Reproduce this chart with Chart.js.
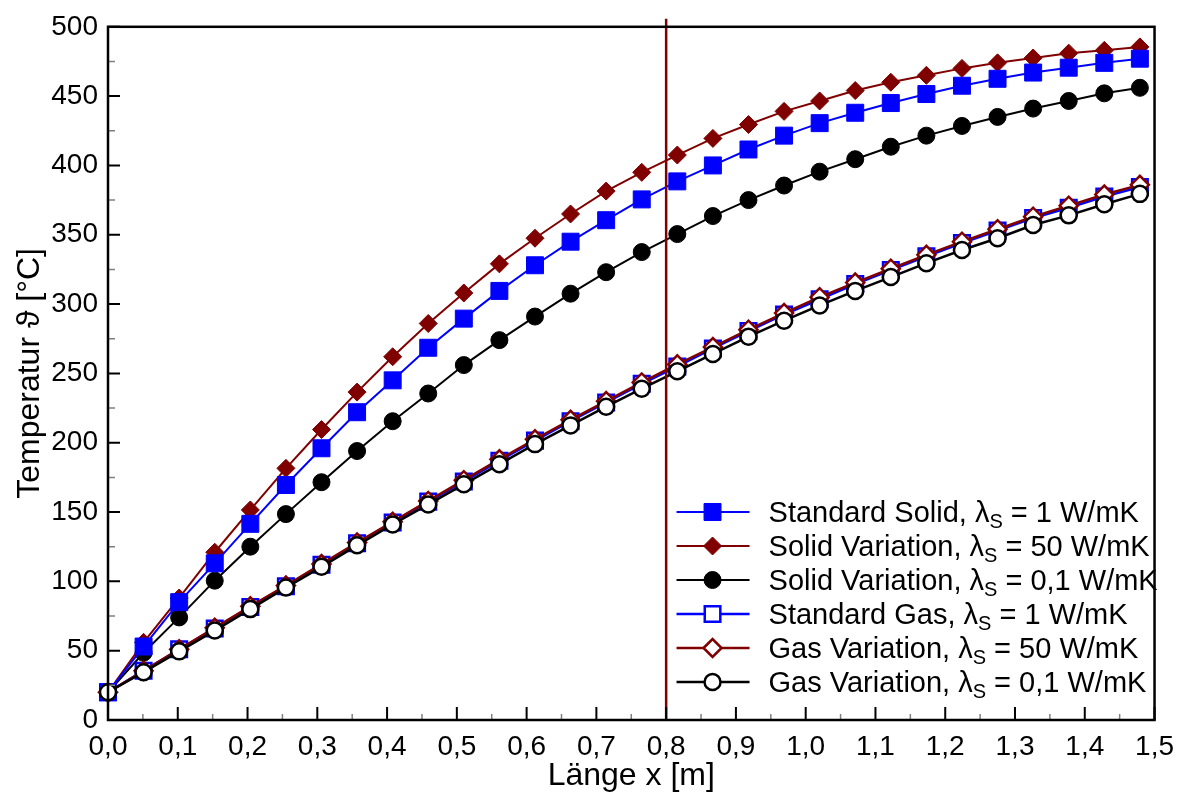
<!DOCTYPE html>
<html>
<head>
<meta charset="utf-8">
<title>Temperatur über Länge</title>
<script src="https://cdn.jsdelivr.net/npm/chart.js@4.4.1/dist/chart.umd.min.js"></script>
<style>
    html, body { margin: 0; padding: 0; background: #ffffff; }
    #chartBox { width: 1184px; height: 796px; }
</style>
</head>
<body>
<div id="chartBox"><canvas id="temperatureChart"></canvas></div>
<script>
// Length positions along the reactor [m]
const lengthX = [0, 0.051, 0.102, 0.153, 0.204, 0.255, 0.306, 0.357, 0.408, 0.459,
    0.51, 0.561, 0.612, 0.663, 0.714, 0.765, 0.816, 0.867, 0.918, 0.969,
    1.02, 1.071, 1.122, 1.173, 1.224, 1.275, 1.326, 1.377, 1.428, 1.479];

// Solid temperatures [°C]
const solidStandard = [20, 53, 85, 113, 141.5, 169.5, 196, 222, 245, 268.5,
    289.5, 309.5, 328, 345, 360.5, 375.5, 388.5, 400, 411.5, 421.5,
    430.5, 438, 445, 451.5, 457.5, 462.5, 467, 470.5, 474, 477];
const solidVar50 = [20, 56, 88, 121, 151.5, 181.5, 209.5, 236.5, 262, 286,
    308, 329, 347.5, 365, 381.5, 395, 407.5, 419.5, 429.5, 439,
    446.5, 454, 460, 465, 470, 474, 477.5, 481, 483, 485.5];
const solidVar01 = [20, 48.5, 74, 100.5, 125, 148.5, 171.5, 194, 215.5, 235.5,
    256, 274, 291, 307.5, 323, 337.5, 350.5, 363.5, 375, 385.5,
    395.5, 404.5, 413.5, 421.5, 428.5, 435, 441, 446.5, 452, 456];

// Gas temperatures [°C]
const gasStandard = [20, 35.5, 51, 66, 81.5, 96.5, 112, 127.5, 142.5, 157.5,
    172, 187, 201.5, 215.5, 229, 242.5, 255, 268, 280.5, 292.5,
    303.5, 314.5, 324.5, 334.5, 344, 353, 362, 369.5, 377.5, 384.5];
const gasVar50 = [20, 35.5, 51, 66.5, 82, 97, 112.5, 128, 143, 158,
    173, 188, 202.5, 216.5, 230, 243.5, 256.5, 269, 281.5, 293.5,
    305, 315.5, 325.5, 335.5, 345, 354, 363, 371, 379, 386];
const gasVar01 = [20, 34.5, 49.5, 64.5, 80, 95.5, 110.5, 126, 141, 155.5,
    170, 184.5, 199, 212.5, 226, 239, 251.5, 264, 276.5, 288,
    299, 309.5, 319.5, 329.5, 339, 347.5, 357, 364, 372, 379.5];

// Legend texts (λS is drawn with a subscript S)
const seriesNames = [
    'Standard Solid, λS = 1 W/mK',
    'Solid Variation, λS = 50 W/mK',
    'Solid Variation, λS = 0,1 W/mK',
    'Standard Gas, λS = 1 W/mK',
    'Gas Variation, λS = 50 W/mK',
    'Gas Variation, λS = 0,1 W/mK'
];

// Axis limits and marked position
const xMin = 0, xMax = 1.5, xStep = 0.1;
const yMin = 0, yMax = 500, yStep = 50;
const markerLength = 0.8;

const FONT = "'Liberation Sans', Arial, sans-serif";
const BLUE = '#0000ff';
const DARKRED = '#800000';
const BLACK = '#000000';

function toPoints(values) {
    return values.map((v, i) => ({ x: lengthX[i], y: v }));
}

// Build a dataset with the given marker look
function makeDataset(label, values, color, style, radius, filled, order) {
    return {
        label: label,
        data: toPoints(values),
        borderColor: color,
        backgroundColor: color,
        borderWidth: filled ? 2 : 2.5,
        pointStyle: style,
        pointRadius: radius,
        pointHoverRadius: radius,
        pointBackgroundColor: filled ? color : '#ffffff',
        pointBorderColor: color,
        pointBorderWidth: filled ? 1 : 2.5,
        tension: 0,
        clip: false,
        order: order
    };
}

// Inward ticks plus the plot frame
const framePlugin = {
    id: 'frame',
    afterDraw(chart) {
        const { ctx, chartArea: a, scales } = chart;
        const xs = scales.x, ys = scales.y;
        ctx.save();

        // minor ticks halfway between the major ones
        ctx.strokeStyle = '#808080';
        ctx.lineWidth = 1.5;
        ctx.beginPath();
        for (let i = 0; i < xs.ticks.length - 1; i++) {
            const px = (xs.getPixelForValue(xs.ticks[i].value) + xs.getPixelForValue(xs.ticks[i + 1].value)) / 2;
            ctx.moveTo(px, a.bottom);
            ctx.lineTo(px, a.bottom - 6);
        }
        for (let i = 0; i < ys.ticks.length - 1; i++) {
            const py = (ys.getPixelForValue(ys.ticks[i].value) + ys.getPixelForValue(ys.ticks[i + 1].value)) / 2;
            ctx.moveTo(a.left, py);
            ctx.lineTo(a.left + 7, py);
        }
        ctx.stroke();

        // major ticks
        ctx.strokeStyle = BLACK;
        ctx.lineWidth = 2;
        ctx.beginPath();
        xs.ticks.forEach(t => {
            const px = xs.getPixelForValue(t.value);
            ctx.moveTo(px, a.bottom);
            ctx.lineTo(px, a.bottom - 13);
        });
        ys.ticks.forEach(t => {
            const py = ys.getPixelForValue(t.value);
            ctx.moveTo(a.left, py);
            ctx.lineTo(a.left + 12, py);
        });
        ctx.stroke();

        // frame
        ctx.lineWidth = 2.5;
        ctx.strokeRect(a.left, a.top, a.right - a.left, a.bottom - a.top);
        ctx.restore();
    }
};

// Vertical line at x = 0.8 m
const markerLinePlugin = {
    id: 'markerLine',
    afterDatasetsDraw(chart) {
        const { ctx, chartArea: a, scales } = chart;
        const px = scales.x.getPixelForValue(markerLength);
        ctx.save();
        ctx.strokeStyle = DARKRED;
        ctx.lineWidth = 2.5;
        ctx.beginPath();
        ctx.moveTo(px, a.top - 8);
        ctx.lineTo(px, a.bottom);
        ctx.stroke();
        ctx.restore();
    }
};

// Legend inside the plot, drawn by hand for the subscript
const innerLegendPlugin = {
    id: 'innerLegend',
    afterDraw(chart) {
        const { ctx, chartArea: a } = chart;
        const lineStart = a.right - 478;
        const lineEnd = a.right - 405;
        const markX = a.right - 442;
        const textX = a.right - 386;
        const firstRow = a.bottom - 208;
        const rowGap = 34;

        ctx.save();
        chart.data.datasets.forEach((ds, i) => {
            const y = firstRow + i * rowGap;
            // line sample
            ctx.strokeStyle = ds.borderColor;
            ctx.lineWidth = ds.borderWidth;
            ctx.beginPath();
            ctx.moveTo(lineStart, y);
            ctx.lineTo(lineEnd, y);
            ctx.stroke();
            // marker
            ctx.fillStyle = ds.pointBackgroundColor;
            ctx.strokeStyle = ds.pointBorderColor;
            ctx.lineWidth = ds.pointBorderWidth;
            Chart.helpers.drawPoint(ctx, {
                pointStyle: ds.pointStyle,
                radius: ds.pointRadius,
                rotation: 0,
                borderWidth: ds.pointBorderWidth
            }, markX, y);

            // text with subscript S
            const parts = ds.label.split('λS');
            ctx.fillStyle = BLACK;
            ctx.textBaseline = 'alphabetic';
            ctx.textAlign = 'left';
            const base = y + 10;
            let x = textX;
            ctx.font = '29px ' + FONT;
            ctx.fillText(parts[0] + 'λ', x, base);
            x += ctx.measureText(parts[0] + 'λ').width;
            ctx.font = '20px ' + FONT;
            ctx.fillText('S', x, base + 6);
            x += ctx.measureText('S').width;
            ctx.font = '29px ' + FONT;
            ctx.fillText(parts[1], x, base);
        });
        ctx.restore();
    }
};

document.addEventListener('DOMContentLoaded', function() {
    renderChart();
});

function renderChart() {
    const datasets = [
        makeDataset(seriesNames[0], solidStandard, BLUE, 'rect', 12, true, 4),
        makeDataset(seriesNames[1], solidVar50, DARKRED, 'rectRot', 9, true, 5),
        makeDataset(seriesNames[2], solidVar01, BLACK, 'circle', 8.5, true, 6),
        makeDataset(seriesNames[3], gasStandard, BLUE, 'rect', 11, false, 3),
        makeDataset(seriesNames[4], gasVar50, DARKRED, 'rectRot', 9, false, 2),
        makeDataset(seriesNames[5], gasVar01, BLACK, 'circle', 8, false, 1)
    ];

    new Chart(document.getElementById('temperatureChart').getContext('2d'), {
        type: 'line',
        data: { datasets: datasets },
        options: {
            responsive: true,
            maintainAspectRatio: false,
            animation: false,
            events: [],
            layout: { padding: { top: 24, right: 26, left: 0, bottom: 0 } },
            plugins: {
                legend: { display: false },
                tooltip: { enabled: false }
            },
            scales: {
                x: {
                    type: 'linear',
                    min: xMin,
                    max: xMax,
                    grid: { display: false, drawTicks: false },
                    border: { display: false },
                    ticks: {
                        stepSize: xStep,
                        padding: 10,
                        color: BLACK,
                        maxRotation: 0,
                        autoSkip: false,
                        font: { family: FONT, size: 28 },
                        callback: v => Number(v).toFixed(1).replace('.', ',')
                    },
                    title: {
                        display: true,
                        text: 'Länge x [m]',
                        color: BLACK,
                        font: { family: FONT, size: 32 },
                        padding: { top: 0, bottom: 1 }
                    },
                    afterFit: scale => { scale.height = 76; }
                },
                y: {
                    min: yMin,
                    max: yMax,
                    grid: { display: false, drawTicks: false },
                    border: { display: false },
                    ticks: {
                        stepSize: yStep,
                        padding: 10,
                        color: BLACK,
                        font: { family: FONT, size: 28 },
                        callback: v => String(v)
                    },
                    title: {
                        display: true,
                        text: 'Temperatur ϑ [°C]',
                        color: BLACK,
                        font: { family: FONT, size: 32 },
                        padding: { top: 11, bottom: 0 }
                    },
                    afterFit: scale => { scale.width = 108; }
                }
            }
        },
        plugins: [markerLinePlugin, framePlugin, innerLegendPlugin]
    });
}
</script>
</body>
</html>
